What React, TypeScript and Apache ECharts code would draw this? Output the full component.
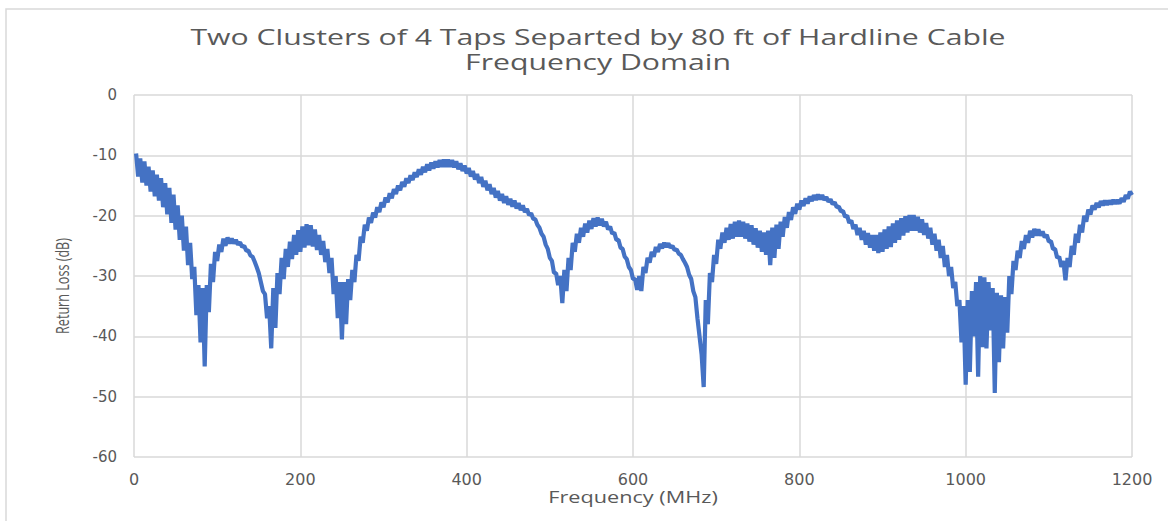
import React, { useEffect, useRef } from "react";
import * as echarts from "echarts";

const TITLE_LINE_1 = "Two Clusters of 4 Taps Separted by 80 ft of Hardline Cable";
const TITLE_LINE_2 = "Frequency Domain";
const X_NAME = "Frequency (MHz)";
const Y_NAME = "Return Loss (dB)";
const X_MIN = 0;
const X_MAX = 1200;
const X_INTERVAL = 200;
const Y_MIN = -60;
const Y_MAX = 0;
const Y_INTERVAL = 10;

// sampling grid of the measurement (MHz)
const F_START = 2.5;
const F_STEP = 2.5;

// return loss (dB): ripple peaks and troughs alternate
const returnLoss: number[] = [
  -9.7, -13.5, -10.5, -14.5, -11, -15, -11.9, -16, -12.5, -16.8,
  -13.2, -17.5, -13.8, -18.6, -14.6, -19.8, -15.4, -21.2, -16.5, -22.3,
  -18.3, -24, -20, -25.8, -21.8, -28.2, -24.5, -30.5, -28.5, -36.5,
  -31.5, -41, -32, -45, -31.5, -36, -28, -31, -26, -27.5,
  -24.8, -26, -23.8, -25, -23.6, -24.6, -23.8, -24.6, -24, -24.8,
  -24.4, -25.2, -25, -25.8, -25.8, -26.6, -26.8, -27.6, -28.5, -29.5,
  -31, -32.5, -33, -37, -35, -42, -32, -38.6, -29.5, -33,
  -27, -30.5, -25.5, -28.5, -24.3, -27.2, -23.2, -26.5, -22.4, -26,
  -21.8, -25.3, -21.4, -24.9, -21.6, -25.1, -22.3, -25.7, -23.2, -26.5,
  -24.2, -27.7, -25.5, -29.5, -27, -33, -30, -37, -31, -40.5,
  -31, -38, -30.5, -34, -29, -31, -26.5, -27.5, -23.5, -24.5,
  -21.5, -22.5, -20.3, -21.2, -19.5, -20.3, -18.6, -19.4, -17.8, -18.6,
  -17, -17.8, -16.3, -17.1, -15.6, -16.4, -15, -15.8, -14.4, -15.2,
  -13.8, -14.6, -13.3, -14.1, -12.8, -13.6, -12.3, -13.2, -11.9, -12.8,
  -11.5, -12.5, -11.2, -12.2, -11, -12, -10.8, -11.9, -10.7, -11.9,
  -10.7, -11.9, -10.8, -12, -11, -12.3, -11.3, -12.6, -11.7, -13,
  -12.1, -13.5, -12.6, -14, -13.1, -14.6, -13.6, -15.2, -14.2, -15.8,
  -14.8, -16.4, -15.4, -17, -15.9, -17.5, -16.4, -17.9, -16.8, -18.2,
  -17.2, -18.5, -17.5, -18.8, -17.9, -19.1, -18.3, -19.4, -18.9, -19.9,
  -19.6, -20.5, -20.6, -21.5, -22, -23, -23.5, -24.8, -25.5, -27,
  -27.5, -29.5, -29.5, -31.5, -30, -34.5, -29, -32.5, -27, -29,
  -24.5, -26, -23, -24.5, -22, -23.5, -21.3, -22.8, -20.8, -22.2,
  -20.4, -21.8, -20.3, -21.6, -20.5, -21.8, -21, -22.3, -21.8, -23,
  -22.8, -24, -24, -25.3, -25.5, -26.8, -27.2, -28.5, -29, -30.5,
  -30.5, -32.3, -30, -32.5, -28.5, -29.5, -27, -27.8, -26, -26.8,
  -25.2, -26, -24.7, -25.4, -24.5, -25.2, -24.6, -25.3, -25, -25.7,
  -25.6, -26.3, -26.5, -27.2, -27.8, -28.5, -29.8, -30.5, -32.5, -33.5,
  -37, -40, -43, -48.4, -34, -38, -29.5, -31, -26.5, -28,
  -24, -25.5, -22.8, -24.5, -22, -24, -21.4, -23.8, -21, -23.5,
  -20.8, -23.5, -21, -23.8, -21.3, -24.3, -21.6, -24.8, -22.1, -25.3,
  -22.5, -26, -22.8, -26.5, -22.5, -28.2, -22, -27, -21.5, -25.5,
  -21, -23.5, -20.2, -22, -19.4, -20.7, -18.6, -19.7, -18, -19,
  -17.5, -18.4, -17.1, -18, -16.8, -17.6, -16.6, -17.4, -16.5, -17.3,
  -16.6, -17.4, -16.9, -17.7, -17.3, -18.1, -17.8, -18.6, -18.5, -19.3,
  -19.2, -20.2, -20, -21.2, -20.8, -22.2, -21.5, -23.2, -22, -24,
  -22.5, -24.8, -22.9, -25.3, -23.2, -25.8, -23.2, -26.2, -22.8, -26,
  -22.3, -25.5, -21.8, -25.2, -21.3, -24.5, -20.8, -24, -20.4, -23.3,
  -20.1, -22.8, -19.9, -22.5, -19.9, -22.5, -20.2, -22.8, -20.6, -23.2,
  -21.2, -23.8, -22, -24.8, -23, -25.8, -24, -27, -25, -28.5,
  -26.5, -30, -28.5, -32, -31, -35, -34, -41, -35, -48,
  -34, -45.9, -32.5, -40, -31, -46.7, -30, -41.8, -30.2, -42,
  -31, -39, -32, -49.4, -32.8, -44.3, -33.2, -42, -33.5, -39.4,
  -30, -33, -27.5, -29, -25.8, -27, -24.2, -25.5, -23.2, -24.5,
  -22.5, -23.6, -22.2, -23.3, -22.3, -23.3, -22.6, -23.6, -23.2, -24.3,
  -24.2, -25.5, -25.5, -27, -26.8, -28.5, -27.5, -30.7, -27, -28.5,
  -25, -26.5, -23, -24.5, -21.5, -22.8, -20, -21, -19, -19.8,
  -18.3, -19, -17.9, -18.6, -17.6, -18.3, -17.5, -18.2, -17.5, -18.1,
  -17.4, -18, -17.4, -18, -17.1, -17.7, -16.6, -17.2, -16, -16.6,
];

const frequencies: number[] = returnLoss.map((_, i) => F_START + F_STEP * i);

export default function App() {
  const ref = useRef<HTMLDivElement>(null);

  useEffect(() => {
    document.body.style.margin = "0";
    if (!ref.current) return;
    const chart = echarts.init(ref.current, undefined, { renderer: "svg" });
    const textColor = "#595959";
    const gridColor = "#d9d9d9";
    const font = "'Open Sans', 'Noto Sans', sans-serif";
    const tickFont = "'DejaVu Sans', 'Open Sans', sans-serif";
    chart.setOption({
      animation: false,
      backgroundColor: "#ffffff",
      graphic: [
        {
          type: "rect",
          shape: { x: 6, y: 9, width: 1200, height: 600 },
          style: { fill: "none", stroke: gridColor, lineWidth: 1.5 },
          silent: true,
          z: -1,
        },
        {
          type: "text",
          x: 598,
          y: 37,
          scaleX: 1.44,
          silent: true,
          style: {
            text: TITLE_LINE_1,
            fill: textColor,
            fontFamily: font,
            fontSize: 21,
            align: "center",
            verticalAlign: "middle",
          },
        },
        {
          type: "text",
          x: 598,
          y: 62,
          scaleX: 1.44,
          silent: true,
          style: {
            text: TITLE_LINE_2,
            fill: textColor,
            fontFamily: font,
            fontSize: 21,
            align: "center",
            verticalAlign: "middle",
          },
        },
        {
          type: "text",
          x: 633,
          y: 497,
          scaleX: 1.4,
          silent: true,
          style: {
            text: X_NAME,
            fill: textColor,
            fontFamily: font,
            fontSize: 15.5,
            align: "center",
            verticalAlign: "middle",
          },
        },
        {
          type: "text",
          x: 62,
          y: 286,
          rotation: Math.PI / 2,
          scaleX: 0.9,
          scaleY: 1.25,
          silent: true,
          style: {
            text: Y_NAME,
            fill: textColor,
            fontFamily: font,
            fontSize: 14,
            align: "center",
            verticalAlign: "middle",
          },
        },
      ],
      grid: { left: 134, right: 36, top: 95, bottom: 64 },
      xAxis: {
        type: "value",
        min: X_MIN,
        max: X_MAX,
        interval: X_INTERVAL,
        axisLine: { show: false },
        axisTick: { show: false },
        axisLabel: {
          color: textColor,
          fontFamily: tickFont,
          fontSize: 16,
          margin: 14,
          formatter: (v: number) => String(v),
        },
        splitLine: { show: true, lineStyle: { color: gridColor, width: 1.5 } },
      },
      yAxis: {
        type: "value",
        min: Y_MIN,
        max: Y_MAX,
        interval: Y_INTERVAL,
        axisLine: { show: false },
        axisTick: { show: false },
        axisLabel: {
          color: textColor,
          fontFamily: tickFont,
          fontSize: 15,
          margin: 17,
          formatter: (v: number) => String(v),
        },
        splitLine: { show: true, lineStyle: { color: gridColor, width: 1.5 } },
      },
      series: [
        {
          type: "line",
          data: frequencies.map((f, i) => [f, returnLoss[i]]),
          showSymbol: false,
          symbol: "none",
          lineStyle: { color: "#4472c4", width: 4.2 },
        },
      ],
    });
    return () => chart.dispose();
  }, []);

  return (
    <div
      ref={ref}
      style={{ position: "fixed", left: 0, top: 0, width: 1168, height: 521 }}
    />
  );
}
